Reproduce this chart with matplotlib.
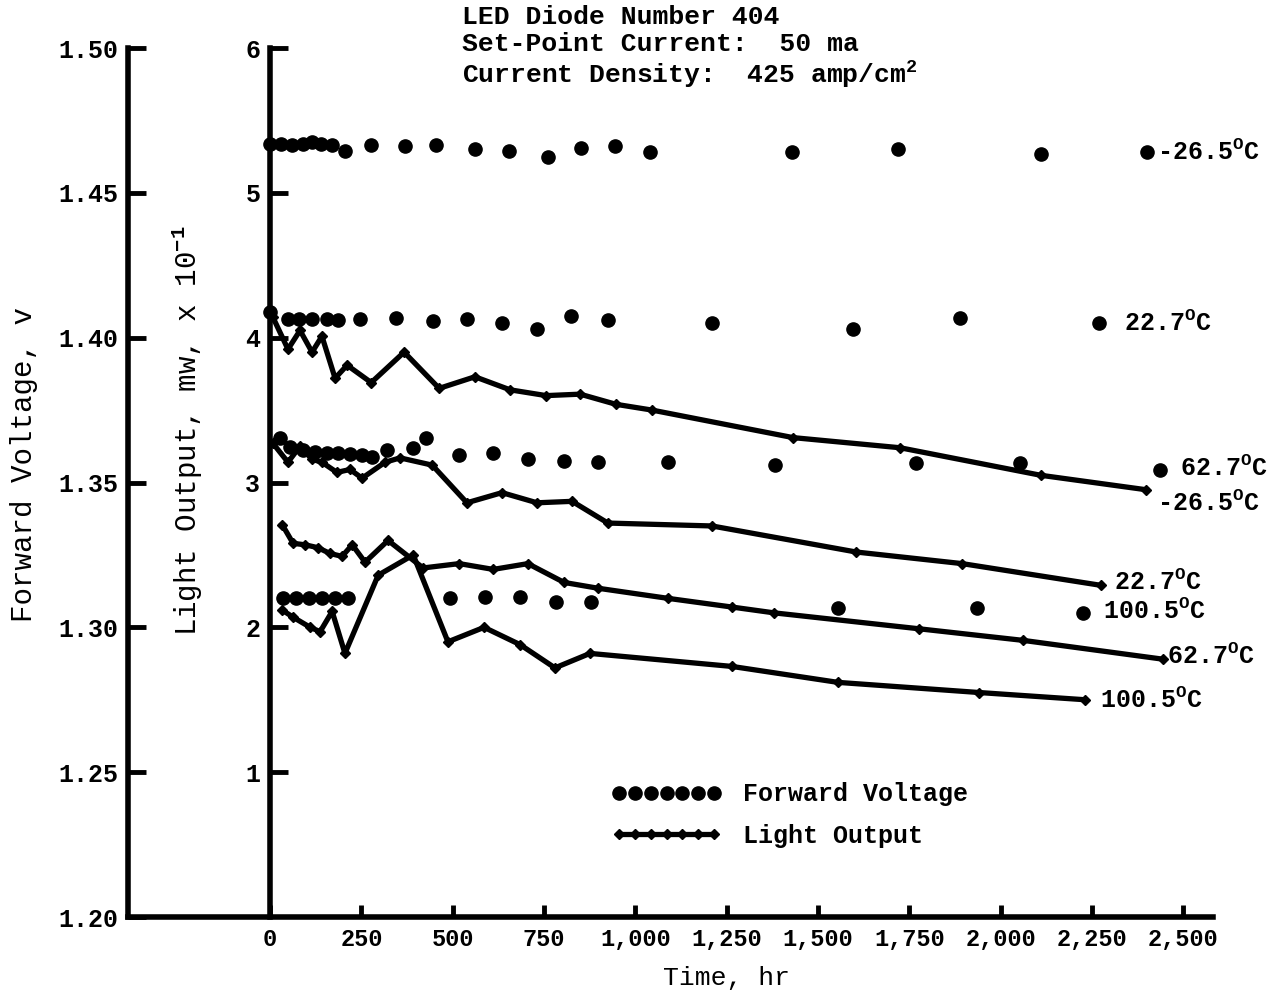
import numpy as np
import matplotlib
matplotlib.use("Agg")
import matplotlib.pyplot as plt
from matplotlib.ticker import FuncFormatter

plt.rcParams['font.family'] = ['Liberation Mono', 'DejaVu Sans']
plt.rcParams['font.weight'] = 'bold'
plt.rcParams['mathtext.fontset'] = 'custom'
plt.rcParams['mathtext.rm'] = 'Liberation Mono:bold'
plt.rcParams['mathtext.it'] = 'Liberation Mono:bold'

# forward voltage (v) vs time (hr)
fv_m265_t = [0, 30, 60, 90, 115, 140, 170, 205, 275, 370, 455, 560, 655, 760, 850, 945, 1040, 1430, 1720, 2110, 2400]
fv_m265_v = [1.467, 1.467, 1.4666, 1.467, 1.4676, 1.467, 1.4664, 1.4645, 1.4664, 1.466, 1.4664,
             1.4652, 1.4645, 1.4624, 1.4655, 1.466, 1.4641, 1.4641, 1.4652, 1.4635, 1.4641]

fv_227_t = [0, 50, 80, 115, 155, 185, 245, 345, 445, 540, 635, 730, 825, 925, 1210, 1595, 1890, 2270]
fv_227_v = [1.4089, 1.4065, 1.4065, 1.4065, 1.4065, 1.4061, 1.4065, 1.4068, 1.4058, 1.4065,
            1.4051, 1.403, 1.4075, 1.4061, 1.4051, 1.403, 1.4068, 1.4051]

fv_627_t = [27, 55, 90, 123, 156, 186, 219, 252, 279, 320, 392, 427, 518, 611, 706, 805, 898, 1090, 1383, 1769, 2054, 2437]
fv_627_v = [1.3654, 1.3623, 1.3613, 1.3606, 1.3602, 1.3602, 1.3599, 1.3595, 1.3588, 1.3613, 1.3619,
            1.3654, 1.3595, 1.3602, 1.3581, 1.3575, 1.3571, 1.3571, 1.3561, 1.3568, 1.3568, 1.3543]

fv_1005_t = [36, 71, 107, 142, 178, 214, 493, 589, 685, 783, 879, 1555, 1936, 2226]
fv_1005_v = [1.3101, 1.3101, 1.3101, 1.3101, 1.3101, 1.3101, 1.3101, 1.3105, 1.3105, 1.3088,
             1.3088, 1.3067, 1.3067, 1.305]

# light output (mw x 10^-1) vs time (hr)
lo_m265_t = [8, 49, 82, 115, 142, 178, 211, 277, 367, 463, 561, 657, 756, 849, 947, 1046, 1432, 1725, 2110, 2399]
lo_m265_l = [4.14, 3.92, 4.05, 3.90, 4.01, 3.72, 3.81, 3.69, 3.90, 3.65, 3.73, 3.64, 3.60, 3.61,
             3.54, 3.50, 3.31, 3.24, 3.05, 2.95]

lo_227_t = [8, 49, 82, 115, 142, 183, 219, 252, 315, 356, 444, 539, 635, 731, 827, 925, 1210, 1605, 1895, 2275]
lo_227_l = [3.27, 3.14, 3.25, 3.16, 3.14, 3.07, 3.09, 3.03, 3.14, 3.17, 3.12, 2.86, 2.93, 2.86,
            2.87, 2.72, 2.70, 2.52, 2.44, 2.29]

lo_627_t = [33, 63, 96, 131, 164, 197, 225, 260, 323, 419, 518, 611, 706, 805, 898, 1090, 1265, 1380, 1777, 2062, 2445]
lo_627_l = [2.71, 2.58, 2.57, 2.55, 2.51, 2.49, 2.57, 2.45, 2.60, 2.41, 2.44, 2.40, 2.44, 2.31,
            2.27, 2.20, 2.14, 2.10, 1.99, 1.91, 1.78]

lo_1005_t = [33, 63, 110, 137, 170, 205, 296, 392, 487, 586, 685, 780, 876, 1265, 1555, 1941, 2232]
lo_1005_l = [2.12, 2.07, 2.00, 1.97, 2.11, 1.82, 2.36, 2.50, 1.90, 2.00, 1.88, 1.72, 1.82, 1.73,
             1.62, 1.55, 1.50]

# end labels (text, time, light-axis value)
end_labels = [("-26.5", 2429, 5.28), ("22.7", 2338, 4.10), ("62.7", 2492, 3.10),
              ("-26.5", 2429, 2.86), ("22.7", 2311, 2.31), ("100.5", 2281, 2.11),
              ("62.7", 2456, 1.80), ("100.5", 2273, 1.50)]

fig = plt.figure(figsize=(12.8, 9.92), dpi=100)
ax = fig.add_axes([0.1, 0.0756, 0.8477, 0.876])
ax2 = ax.twinx()

ax.set_xlim(-389, 2582)
ax.set_ylim(0, 6)
ax2.set_ylim(1.20, 1.50)

# light output lines
first = True
for t, l in [(lo_m265_t, lo_m265_l), (lo_227_t, lo_227_l), (lo_627_t, lo_627_l), (lo_1005_t, lo_1005_l)]:
    ax.plot(t, l, color='black', lw=3.8, marker='D', ms=5.5, mfc='black', mec='black',
            label='Light Output' if first else None)
    first = False

# forward voltage dots
first = True
for t, v in [(fv_m265_t, fv_m265_v), (fv_227_t, fv_227_v), (fv_627_t, fv_627_v), (fv_1005_t, fv_1005_v)]:
    ax2.plot(t, v, ls='none', marker='o', ms=9.5, color='black',
             label='Forward Voltage' if first else None)
    first = False

for txt, t, l in end_labels:
    ax.text(t, l, txt + r"$^{\rm O}$C", fontsize=18, va='center', ha='left')

# spines
for a in (ax, ax2):
    a.spines['top'].set_visible(False)
    a.spines['right'].set_visible(False)
ax.spines['left'].set_position(('data', 0))
ax.spines['left'].set_linewidth(4)
ax.spines['bottom'].set_linewidth(4)
ax2.spines['bottom'].set_visible(False)
ax2.spines['left'].set_visible(True)
ax2.spines['left'].set_linewidth(4)
ax2.yaxis.tick_left()
ax2.yaxis.set_label_position('left')

ax.set_yticks([1, 2, 3, 4, 5, 6])
ax2.set_yticks([1.20, 1.25, 1.30, 1.35, 1.40, 1.45, 1.50])
ax2.yaxis.set_major_formatter(FuncFormatter(lambda v, p: f"{v:.2f}"))
ax.set_xticks(np.arange(0, 2501, 250))
ax.xaxis.set_major_formatter(FuncFormatter(lambda v, p: f"{int(v):,}"))

ax.tick_params(axis='y', direction='in', length=13, width=3.5, pad=7, labelsize=18)
ax2.tick_params(axis='y', direction='in', length=13, width=3.5, pad=7, labelsize=18)
ax.tick_params(axis='x', direction='in', length=9, width=3.5, pad=8, labelsize=17)

ax2.set_ylabel("Forward Voltage, v", fontsize=21, fontweight='normal')
ax2.yaxis.set_label_coords(-0.083, 0.521)
ax.set_ylabel(r"Light Output, mw, x 10$^{-1}$", fontsize=21, fontweight='normal')
ax.yaxis.set_label_coords(0.071, 0.56)
ax.set_xlabel("Time, hr", fontsize=19)
ax.xaxis.set_label_coords(0.552, -0.056)

fig.text(462 / 1280, 1 - 5 / 992,
         "LED Diode Number 404\nSet-Point Current:  50 ma\nCurrent Density:  425 amp/cm$^2$",
         fontsize=19, va='top', ha='left', linespacing=1.15)

h1, l1 = ax2.get_legend_handles_labels()
h2, l2 = ax.get_legend_handles_labels()
leg = ax2.legend(h1 + h2, l1 + l2, loc='center left', bbox_to_anchor=(589 / 1280, 1 - 815 / 992),
                 bbox_transform=fig.transFigure, frameon=False, numpoints=7, handlelength=4.4,
                 handletextpad=0.85, labelspacing=0.7, fontsize=18)

fig.savefig("out.png", dpi=100)
